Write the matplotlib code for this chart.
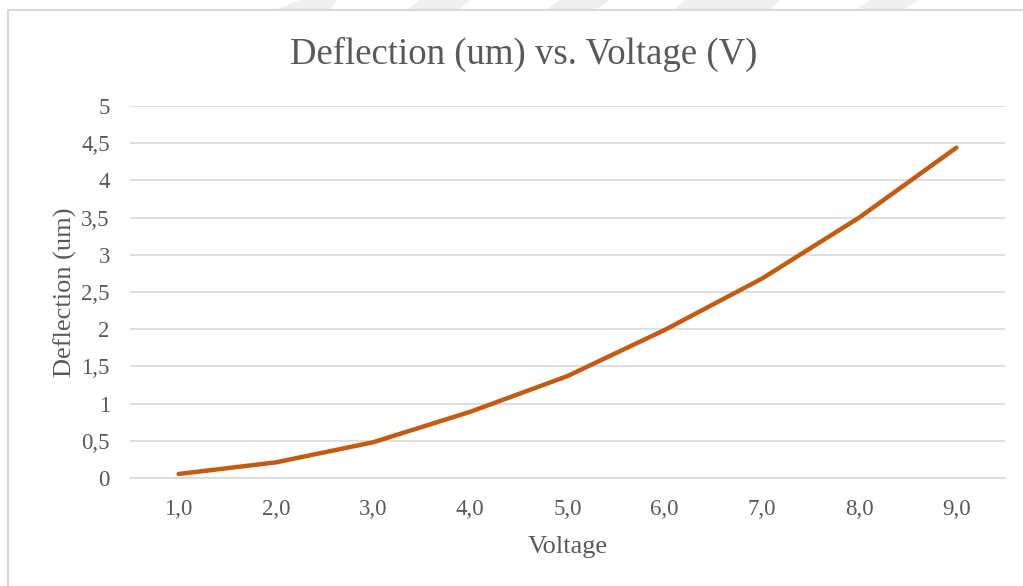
import matplotlib.pyplot as plt
from matplotlib.patches import Rectangle, Polygon

voltaje = ['1,0', '2,0', '3,0', '4,0', '5,0', '6,0', '7,0', '8,0', '9,0']
deflexion = [0.054, 0.21, 0.48, 0.89, 1.37, 1.99, 2.68, 3.50, 4.44]
ticks_y = [0, 0.5, 1, 1.5, 2, 2.5, 3, 3.5, 4, 4.5, 5]
etiquetas_y = ['0', '0,5', '1', '1,5', '2', '2,5', '3', '3,5', '4', '4,5', '5']

plt.rcParams['font.family'] = ['Liberation Serif', 'DejaVu Serif']
gris = '#595959'
W, H = 1023, 586

fig = plt.figure(figsize=(10.23, 5.86), dpi=100)

# marcas de agua grises arriba del marco (en pixeles)
franjas = [(277, 300, 337, 330), (408, 420, 470, 460), (547, 560, 610, 597),
           (675, 685, 780, 770), (857, 870, 918, 905)]
for x0, x1, x2, x3 in franjas:
    pts = [(x0 / W, 1 - 9 / H), (x1 / W, 1.0), (x2 / W, 1.0), (x3 / W, 1 - 9 / H)]
    fig.patches.append(Polygon(pts, closed=True, transform=fig.transFigure,
                               facecolor='#efefef', edgecolor='none'))

# marco del grafico
fig.patches.append(Rectangle((8 / W, -0.01), 1.02, 1 - 10 / H + 0.01,
                             transform=fig.transFigure, fill=False,
                             edgecolor='#d9d9d9', lw=1.5))

ax = fig.add_axes([130 / W, 1 - 478 / H, 875 / W, 372 / H])
x = range(len(voltaje))
ax.plot(x, deflexion, color='#C55A11', lw=3.2, solid_capstyle='round')

ax.set_xlim(-0.5, len(voltaje) - 0.5)
ax.set_ylim(0, 5)
ax.set_xticks(list(x))
ax.set_xticklabels(voltaje)
ax.set_yticks(ticks_y)
ax.set_yticklabels(etiquetas_y)
ax.grid(axis='y', color='#d9d9d9', lw=1.2)
ax.set_axisbelow(True)
for s in ['top', 'right', 'left']:
    ax.spines[s].set_visible(False)
ax.spines['bottom'].set_color('#d9d9d9')
ax.spines['bottom'].set_linewidth(1.2)
ax.tick_params(length=0, labelsize=16.5, colors=gris)
ax.tick_params(axis='y', pad=14.5)
ax.tick_params(axis='x', pad=15)

ax.set_xlabel('Voltage', fontsize=19, color=gris, labelpad=12)
ax.set_ylabel('Deflection (um)', fontsize=19, color=gris, labelpad=3)
fig.text(524 / W, 1 - 54 / H, 'Deflection (um) vs. Voltage (V)', fontsize=26.5,
         color=gris, ha='center', va='center')

plt.savefig('out.png', dpi=100)
